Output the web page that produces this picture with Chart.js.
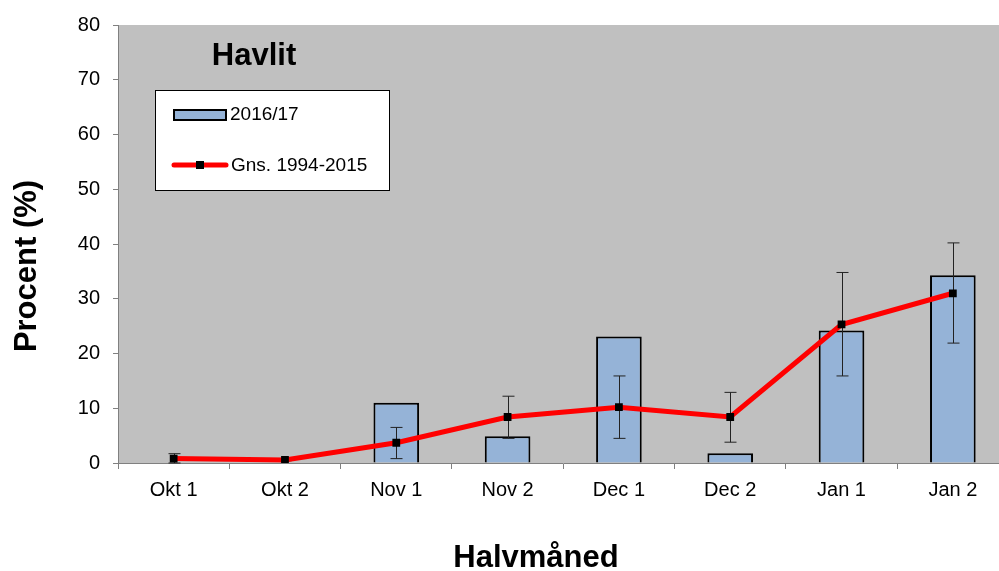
<!DOCTYPE html>
<html>
<head>
<meta charset="utf-8">
<script src="https://cdn.jsdelivr.net/npm/chart.js@4.4.1/dist/chart.umd.min.js"></script>
<style>
  html, body { margin:0; padding:0; background:#fff; overflow:hidden; }
  #wrap { width:999px; height:571px; overflow:hidden; }
</style>
</head>
<body>
<div id="wrap"><canvas id="chart" width="1014" height="571"></canvas></div>
<script>
const labels = ["Okt 1","Okt 2","Nov 1","Nov 2","Dec 1","Dec 2","Jan 1","Jan 2"];
const season = [0, 0, 11.0, 4.9, 23.1, 1.8, 24.2, 34.3];
const average = [0.8, 0.55, 3.7, 8.4, 10.2, 8.4, 25.3, 31.0];
const errLow = [0.0, 0.4, 0.8, 4.5, 4.5, 3.8, 15.9, 21.9];
const errHigh = [1.7, 0.7, 6.5, 12.2, 15.9, 12.9, 34.8, 40.2];
const yTicks = [0,10,20,30,40,50,60,70,80];

const fontFamily = "'Liberation Sans', Arial, sans-serif";

const plotBg = {
  id: "plotBg",
  beforeDraw(chart){
    const {ctx, chartArea:a} = chart;
    ctx.save();
    ctx.fillStyle = "#c0c0c0";
    ctx.fillRect(a.left, a.top, a.right - a.left, a.bottom - a.top);
    ctx.restore();
  }
};

const errorBars = {
  id: "errorBars",
  afterDatasetDraw(chart, args){
    if(args.index !== 0) return;
    const ctx = chart.ctx, x = chart.scales.x, y = chart.scales.y;
    ctx.save();
    ctx.strokeStyle = "#222";
    ctx.lineWidth = 1;
    labels.forEach((l, i) => {
      const px = Math.round(x.getPixelForValue(i)) + 0.5;
      const top = y.getPixelForValue(errHigh[i]);
      const bot = y.getPixelForValue(errLow[i]);
      ctx.beginPath();
      ctx.moveTo(px, top); ctx.lineTo(px, bot);
      ctx.moveTo(px - 6, top); ctx.lineTo(px + 6, top);
      ctx.moveTo(px - 6, bot); ctx.lineTo(px + 6, bot);
      ctx.stroke();
    });
    ctx.restore();
  }
};

const overlay = {
  id: "overlay",
  afterDraw(chart){
    const ctx = chart.ctx;
    ctx.save();
    ctx.fillStyle = "#000";
    ctx.textAlign = "center";
    ctx.textBaseline = "middle";

    // axis titles
    ctx.font = "bold 31px " + fontFamily;
    ctx.fillText("Halvmåned", 536, 558);
    ctx.save();
    ctx.translate(27, 266);
    ctx.rotate(-Math.PI / 2);
    ctx.fillText("Procent (%)", 0, 0);
    ctx.restore();

    // title inside plot
    ctx.fillText("Havlit", 254, 56);

    // legend box
    ctx.fillStyle = "#fff";
    ctx.fillRect(155, 90, 234, 100);
    ctx.strokeStyle = "#000";
    ctx.lineWidth = 1;
    ctx.strokeRect(155.5, 90.5, 234, 100);

    ctx.fillStyle = "#95b3d7";
    ctx.fillRect(174, 110, 52, 10);
    ctx.lineWidth = 2;
    ctx.strokeRect(174, 110, 52, 10);

    ctx.strokeStyle = "#ff0000";
    ctx.lineWidth = 5;
    ctx.lineCap = "round";
    ctx.beginPath();
    ctx.moveTo(174, 165); ctx.lineTo(226, 165);
    ctx.stroke();
    ctx.fillStyle = "#000";
    ctx.fillRect(196, 161, 8, 8);

    ctx.font = "19px " + fontFamily;
    ctx.textAlign = "left";
    ctx.fillText("2016/17", 230, 115);
    ctx.fillText("Gns. 1994-2015", 231, 166);
    ctx.restore();
  }
};

new Chart(document.getElementById("chart"), {
  type: "bar",
  data: {
    labels: labels,
    datasets: [
      {
        type: "bar",
        label: "2016/17",
        data: season,
        backgroundColor: "#95b3d7",
        borderColor: "#000",
        borderWidth: 2,
        barPercentage: 0.41,
        categoryPercentage: 1,
        order: 2
      },
      {
        type: "line",
        label: "Gns. 1994-2015",
        data: average,
        borderColor: "#ff0000",
        borderWidth: 5,
        pointStyle: "rect",
        pointRadius: 5.5,
        pointBackgroundColor: "#000",
        pointBorderColor: "#000",
        pointBorderWidth: 0,
        tension: 0,
        order: 1
      }
    ]
  },
  options: {
    responsive: false,
    animation: false,
    devicePixelRatio: 1,
    layout: { padding: { top: 22, right: 0, left: 0, bottom: 0 } },
    plugins: {
      legend: { display: false },
      tooltip: { enabled: false }
    },
    scales: {
      x: {
        offset: true,
        afterFit(scale){ scale.height = 108; },
        grid: { display: true, offset: true, drawOnChartArea: false, tickLength: 6, color: "#808080" },
        border: { color: "#808080", width: 1 },
        ticks: { color: "#000", font: { family: fontFamily, size: 20 }, padding: 9, maxRotation: 0 }
      },
      y: {
        min: 0,
        max: 80,
        afterBuildTicks(scale){ scale.ticks = yTicks.map(v => ({ value: v })); },
        afterFit(scale){ scale.width = 118; },
        grid: { display: true, drawOnChartArea: false, tickLength: 5, color: "#808080" },
        border: { color: "#808080", width: 1 },
        ticks: { color: "#000", font: { family: fontFamily, size: 20 }, padding: 13 }
      }
    }
  },
  plugins: [plotBg, errorBars, overlay]
});
</script>
</body>
</html>
